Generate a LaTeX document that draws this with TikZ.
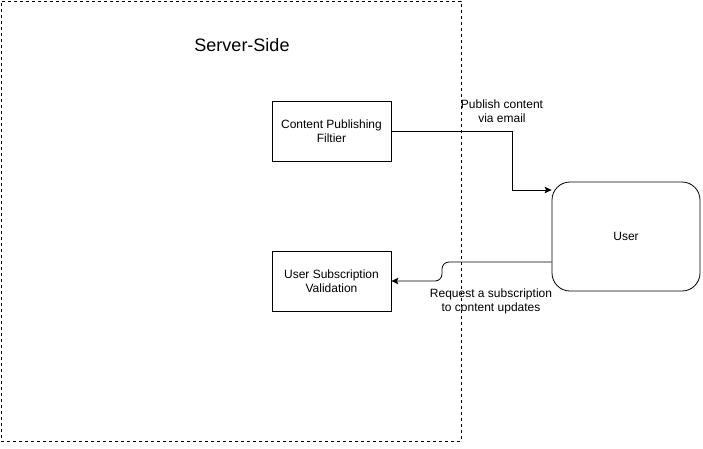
\documentclass[tikz,border=0pt]{standalone}
\usepackage{fontspec}
\setmainfont{Liberation Sans}
\usetikzlibrary{positioning,arrows.meta,calc}

\begin{document}
\begin{tikzpicture}[x=1pt,y=1pt]
    \tikzstyle{every node}=[inner sep=0,font=\fontsize{12}{14}\selectfont]
    \tikzstyle{block}=[draw,rectangle,minimum width=119,minimum height=60,align=center,line width=0.8]
    \tikzstyle{actor}=[block,rounded corners=18,minimum width=148,minimum height=109]
    \tikzstyle{note}=[draw=none,fill=none,align=center]
    \tikzstyle{link}=[-{Stealth[length=7pt,width=6.5pt,inset=1.5pt]},line width=0.8]
    \useasboundingbox (0,0) rectangle (703,-448);
    {
        \node[draw,dash pattern=on 3 off 3,line width=0.8,minimum width=460,minimum height=440] (server) at (231,-221) {};
        \node[note,font=\fontsize{18}{21}\selectfont] (title) at (242,-45) {Server-Side};

        \node[block] (filter) at (331.5,-131) {Content Publishing\\Filtier};
        \node[block] (validate) at (331.5,-281) {User Subscription\\Validation};
        \node[actor] (user) at (626,-236.5) {User};

        \node[note] (publish) at (502,-111) {Publish content\\via email};
        \node[note] (request) at (491,-301) {Request a subscription\\to content updates};

        \coordinate (bend) at (512,-190);
        \coordinate (jog) at (442,-262);

        \draw[link] (filter.east) -| (bend) -- (user.west |- bend);
        \draw[link,rounded corners=7] (user.west |- jog) -- (jog) -- (jog |- validate.east) -- (validate.east);
    }
\end{tikzpicture}
\end{document}
